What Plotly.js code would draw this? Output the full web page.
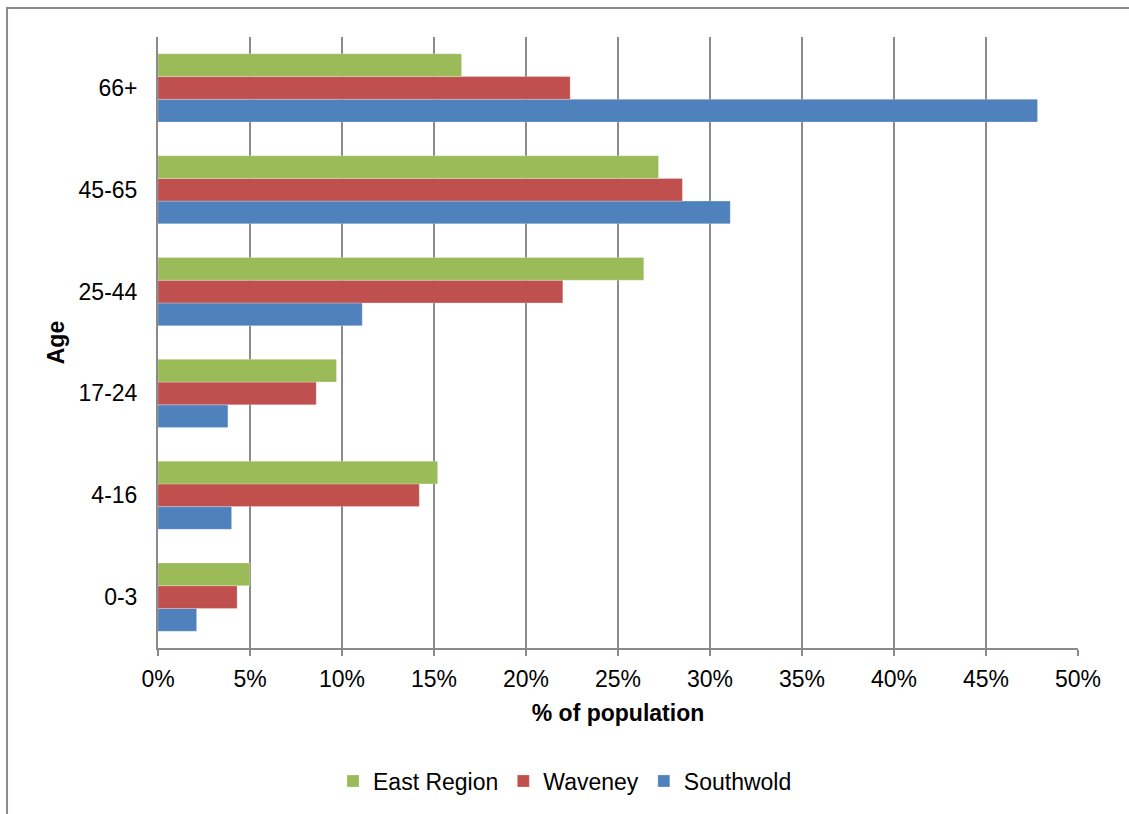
<!DOCTYPE html>
<html>
<head>
<meta charset="utf-8">
<script src="https://cdn.plot.ly/plotly-3.0.1.min.js"></script>
<style>html,body{margin:0;padding:0;background:#fff;}#chart{width:1129px;height:814px;}</style>
</head>
<body>
<div id="chart"></div>
<script>
const ageGroups = ['0-3', '4-16', '17-24', '25-44', '45-65', '66+'];
const eastRegion = [5.0, 15.2, 9.7, 26.4, 27.2, 16.5];
const waveney = [4.3, 14.2, 8.6, 22.0, 28.5, 22.4];
const southwold = [2.1, 4.0, 3.8, 11.1, 31.1, 47.8];
const xTicks = [0, 5, 10, 15, 20, 25, 30, 35, 40, 45, 50];

const font = {family: 'Liberation Sans, Arial, sans-serif', color: '#000'};
const fs = 23;
const mk = (name, vals, color) => ({
  type: 'bar', orientation: 'h', name: name, x: vals, y: ageGroups,
  marker: {color: color, line: {color: 'rgba(255,255,255,0.5)', width: 0.5}},
  hoverinfo: 'x+y+name'
});
const traces = [
  mk('Southwold', southwold, '#4F81BD'),
  mk('Waveney', waveney, '#C0504D'),
  mk('East Region', eastRegion, '#9BBB59')
];
const layout = {
  width: 1129, height: 814,
  margin: {l: 158, r: 51, t: 37, b: 166},
  paper_bgcolor: '#fff', plot_bgcolor: '#fff',
  font: Object.assign({size: fs}, font),
  barmode: 'group', bargap: 0.33, bargroupgap: 0,
  xaxis: {
    range: [0, 50], tickvals: xTicks, ticktext: xTicks.map(v => v + '%'),
    showgrid: true, gridcolor: '#8a8a8a', gridwidth: 1.5,
    showline: true, linecolor: '#8a8a8a', linewidth: 2,
    ticks: 'outside', ticklen: 6, tickcolor: '#8a8a8a', tickwidth: 2,
    ticklabelstandoff: 3,
    tickfont: Object.assign({size: fs}, font),
    zeroline: false,
    title: {text: '<b>% of population</b>', font: Object.assign({size: fs}, font), standoff: 14}
  },
  yaxis: {
    type: 'category', categoryorder: 'array', categoryarray: ageGroups,
    showline: true, linecolor: '#8a8a8a', linewidth: 2,
    showgrid: false,
    ticks: 'outside', ticklen: 14, tickcolor: 'rgba(0,0,0,0)',
    tickfont: Object.assign({size: fs}, font),
    title: {text: '<b>Age</b>', font: Object.assign({size: fs}, font), standoff: 8}
  },
  legend: {
    orientation: 'h', traceorder: 'reversed',
    x: 0.4424, xanchor: 'center', y: -0.2177, yanchor: 'middle',
    font: Object.assign({size: fs}, font),
    itemwidth: 30
  },
  shapes: [{
    type: 'path', xref: 'paper', yref: 'paper',
    path: 'M -0.1641 -0.28 L -0.1641 1.0475 L 1.06 1.0475',
    line: {color: '#898989', width: 2}
  }],
  showlegend: true
};
Plotly.newPlot('chart', traces, layout, {displayModeBar: false, staticPlot: true});
</script>
</body>
</html>
